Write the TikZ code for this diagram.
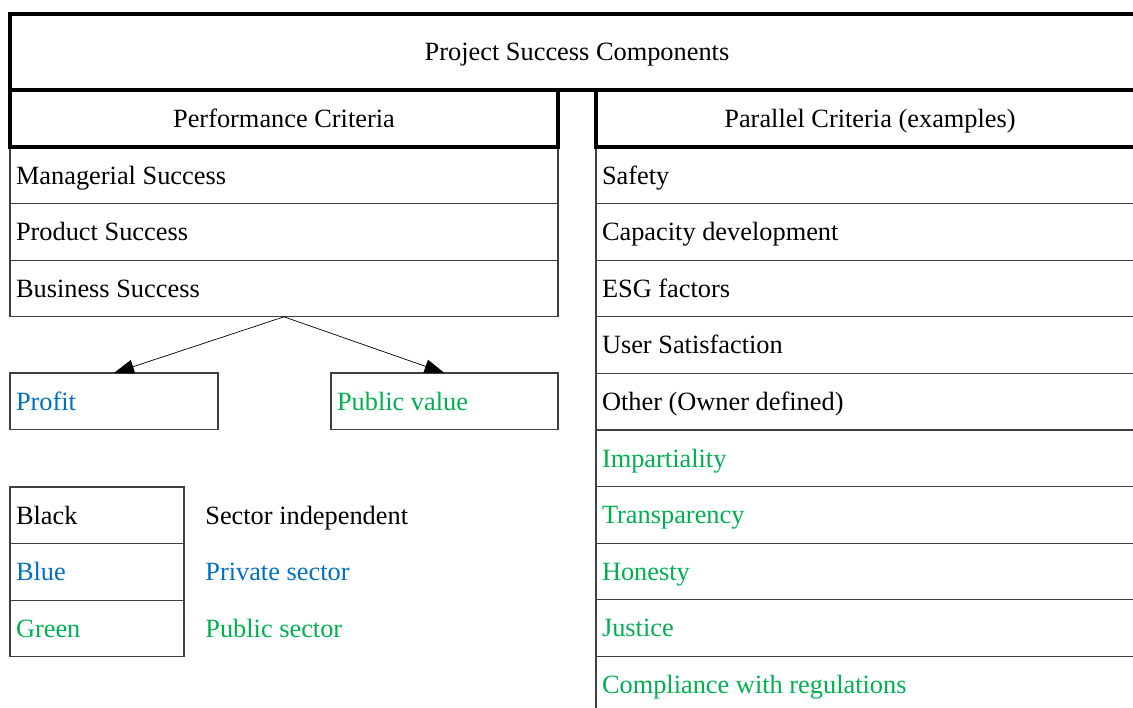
\documentclass[tikz,border=0pt]{standalone}
\usepackage{fontspec}
\setmainfont{Liberation Serif}
\usetikzlibrary{arrows.meta}
\definecolor{privblue}{HTML}{0070C0}
\definecolor{pubgreen}{HTML}{00B050}
\tikzset{
    headbox/.style={draw, line width=2.2pt, minimum height=#1, inner sep=0pt, outer sep=0pt,
        anchor=north west, text height=0.35cm, text depth=0cm},
    rowbox/.style={draw=black!75, line width=0.6pt, minimum height=1.132cm, inner xsep=0.12cm,
        outer sep=0pt, text width=#1, align=flush left, anchor=north west,
        text height=0.35cm, text depth=0cm},
    keytext/.style={anchor=west, inner sep=0pt, text height=0.35cm, text depth=0cm}
}
\begin{document}
\begin{tikzpicture}[font=\fontsize{15}{18}\selectfont]
    \useasboundingbox (0,0) rectangle (22.66,-14.14);
    \clip (0,0) rectangle (22.66,-14.14);

    % performance criteria rows
    \node[rowbox=10.72cm] (man) at (0.2,-2.94) {Managerial Success};
    \node[rowbox=10.72cm] (prod) at (man.south west) {Product Success};
    \node[rowbox=10.72cm] (bus) at (prod.south west) {Business Success};

    % parallel criteria rows
    \foreach \txt/\col [count=\i from 0] in {Safety/black, Capacity development/black,
        ESG factors/black, User Satisfaction/black, Other (Owner defined)/black,
        Impartiality/pubgreen, Transparency/pubgreen, Honesty/pubgreen,
        Justice/pubgreen, Compliance with regulations/pubgreen}
        \node[rowbox=10.72cm, text=\col] (par\i) at (11.92,-2.94-1.132*\i) {\txt};

    % header and the two columns (on top of the rows)
    \node[headbox=1.52cm, minimum width=22.68cm] (title) at (0.2,-0.28) {Project Success Components};
    \node[headbox=1.14cm, minimum width=10.96cm] (perf) at (0.2,-1.8) {Performance Criteria};
    \node[headbox=1.14cm, minimum width=10.96cm] (par) at (11.92,-1.8) {Parallel Criteria (examples)};

    % profit vs public value
    \node[rowbox=3.92cm, text=privblue] (profit) at (0.2,-7.46) {Profit};
    \node[rowbox=4.3cm, text=pubgreen] (pubval) at (6.62,-7.46) {Public value};
    \draw[-{Triangle[length=0.4cm, width=0.28cm]}] (bus.south) -- (profit.north);
    \draw[-{Triangle[length=0.4cm, width=0.28cm]}] (bus.south) -- (pubval.north);

    % colour key
    \node[rowbox=3.24cm] (kblack) at (0.2,-9.74) {Black};
    \node[rowbox=3.24cm, text=privblue] (kblue) at (kblack.south west) {Blue};
    \node[rowbox=3.24cm, text=pubgreen] (kgreen) at (kblue.south west) {Green};
    \node[keytext] (sblack) at (4.1,0 |- kblack.center) {Sector independent};
    \node[keytext, text=privblue] (sblue) at (4.1,0 |- kblue.center) {Private sector};
    \node[keytext, text=pubgreen] (sgreen) at (4.1,0 |- kgreen.center) {Public sector};
\end{tikzpicture}
\end{document}
